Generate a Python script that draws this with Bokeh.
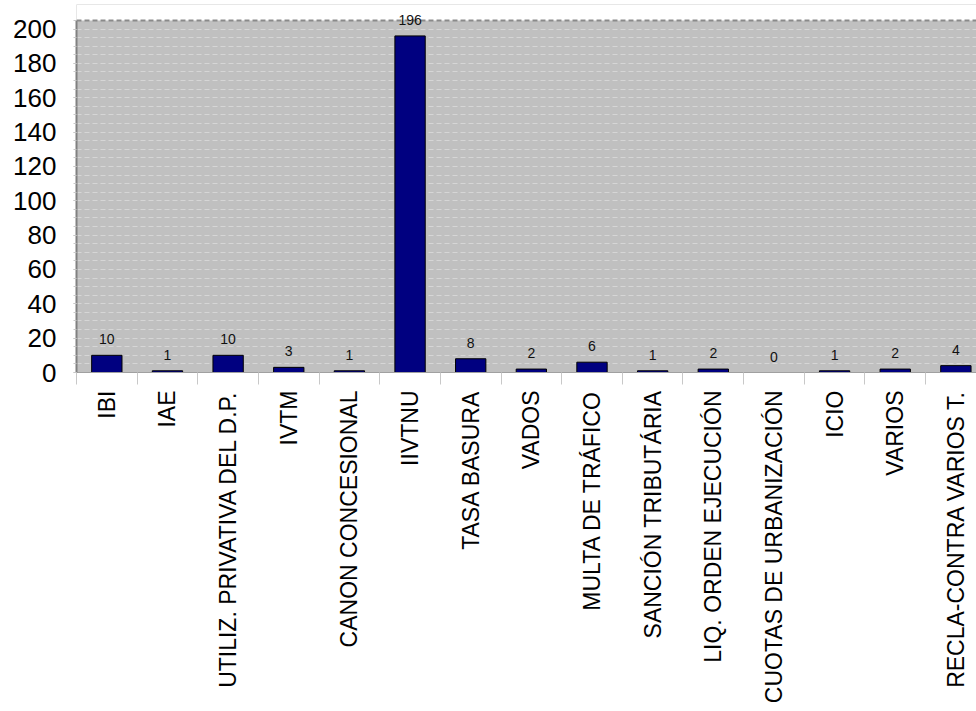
from bokeh.plotting import figure
from bokeh.models import (Range1d, FixedTicker, SingleIntervalTicker, CustomJSTickFormatter,
                          Label, BoxAnnotation, Span)
from bokeh.embed import file_html
from bokeh.resources import INLINE
import math

categories = ["IBI", "IAE", "UTILIZ. PRIVATIVA DEL D.P.", "IVTM", "CANON CONCESIONAL",
              "IIVTNU", "TASA BASURA", "VADOS", "MULTA DE TRÁFICO", "SANCIÓN TRIBUTÁRIA",
              "LIQ. ORDEN EJECUCIÓN", "CUOTAS DE URBANIZACIÓN", "ICIO", "VARIOS",
              "RECLA-CONTRA VARIOS T."]
values = [10, 1, 10, 3, 1, 196, 8, 2, 6, 1, 2, 0, 1, 2, 4]
y_ticks = [0, 20, 40, 60, 80, 100, 120, 140, 160, 180, 200]
y_top = 205

idx = list(range(len(categories)))

p = figure(frame_width=900, frame_height=368, output_backend="svg", toolbar_location=None,
           x_range=Range1d(-0.5, 14.34), y_range=Range1d(0, 214.3),
           min_border_left=76, min_border_top=4, min_border_right=0, min_border_bottom=0)

p.border_fill_color = "white"
p.background_fill_color = "#c0c0c0"
p.outline_line_color = None

# white area above the plotting box
p.add_layout(BoxAnnotation(bottom=y_top, fill_color="white", fill_alpha=1,
                           line_color=None, level="underlay"))
p.add_layout(Span(location=y_top, dimension="width", line_color="#8a8a8a",
                  line_width=2, line_dash="5 3"))

p.vbar(x=idx, top=values, width=0.5, bottom=0,
       fill_color="#000080", line_color="black", line_width=1)

for xi, v in zip(idx, values):
    p.add_layout(Label(x=xi, y=v, text=str(v), y_offset=11,
                       text_align="center", text_baseline="bottom",
                       text_font="Liberation Sans", text_font_size="14px",
                       text_color="#111111"))

# grid
p.xgrid.visible = False
p.ygrid.ticker = SingleIntervalTicker(interval=5)
p.ygrid.bounds = (0, y_top)
p.ygrid.grid_line_color = "#d6d6d6"
p.ygrid.grid_line_dash = "5 3"
p.ygrid.grid_line_width = 1

# y axis
ya = p.yaxis[0]
ya.bounds = (0, y_top)
ya.ticker = FixedTicker(ticks=y_ticks, minor_ticks=list(range(0, 206, 5)))
ya.major_label_text_font = "Liberation Sans"
ya.major_label_text_font_size = "26px"
ya.major_label_text_color = "black"
ya.axis_line_color = "#808080"
ya.axis_line_width = 2
ya.major_tick_in = 0
ya.minor_tick_in = 0
ya.major_tick_out = 3
ya.minor_tick_out = 3
ya.major_tick_line_color = "#c8c8c8"
ya.minor_tick_line_color = "#c8c8c8"
ya.major_label_standoff = 17

# x axis
xa = p.xaxis[0]
xa.ticker = FixedTicker(ticks=idx, minor_ticks=[i - 0.5 for i in idx] + [14.5])
xa.formatter = CustomJSTickFormatter(args=dict(labels=categories),
                                     code="return labels[Math.round(tick)];")
xa.major_label_orientation = math.pi / 2
xa.major_label_text_font = "Liberation Sans"
xa.major_label_text_font_size = "23px"
xa.major_label_text_color = "black"
xa.axis_line_color = "#a0a0a0"
xa.axis_line_width = 1
xa.major_tick_in = 0
xa.major_tick_out = 0
xa.minor_tick_in = 0
xa.minor_tick_out = 12
xa.minor_tick_line_color = "#c8c8c8"
xa.minor_tick_line_width = 1
xa.major_label_standoff = 6

open("out.html", "w").write(file_html(p, INLINE))
